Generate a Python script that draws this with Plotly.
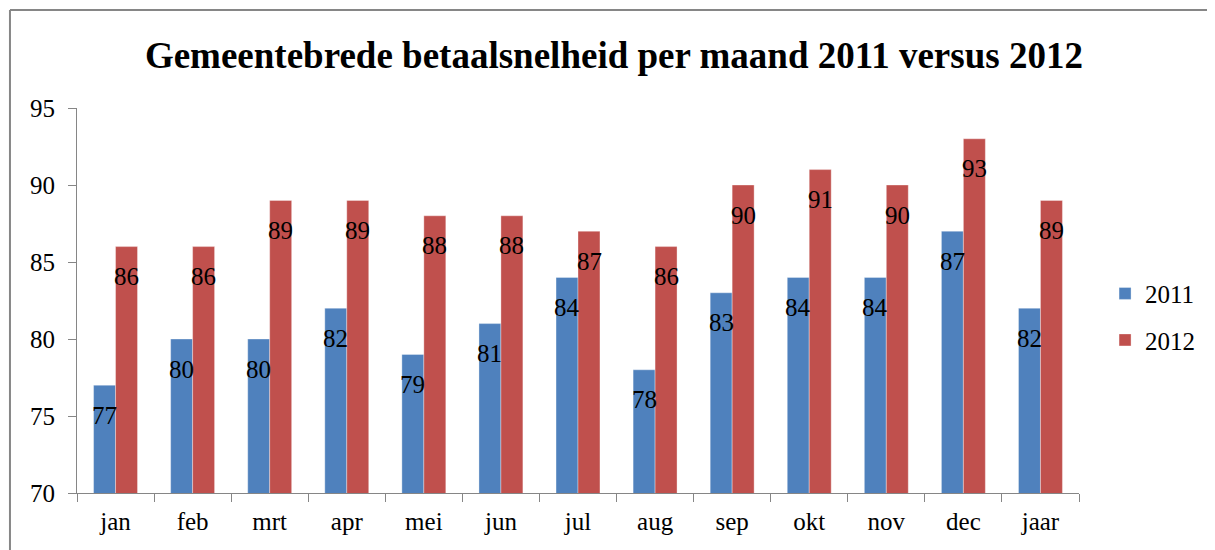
import plotly.graph_objects as go

categories = ["jan", "feb", "mrt", "apr", "mei", "jun", "jul", "aug", "sep", "okt", "nov", "dec", "jaar"]
values_2011 = [77, 80, 80, 82, 79, 81, 84, 78, 83, 84, 84, 87, 82]
values_2012 = [86, 86, 89, 89, 88, 88, 87, 86, 90, 91, 90, 93, 89]
y_ticks = [70, 75, 80, 85, 90, 95]

FONT = "Times New Roman, Liberation Serif, serif"
BLUE = "#4F81BD"
RED = "#C0504D"
AXIS = "#868686"

fig = go.Figure()
fig.add_trace(go.Bar(x=categories, y=values_2011, name="2011", marker=dict(color=BLUE, line=dict(color="rgba(255,255,255,0.35)", width=1)), legendgroup="a"))
fig.add_trace(go.Bar(x=categories, y=values_2012, name="2012", marker=dict(color=RED, line=dict(color="rgba(255,255,255,0.35)", width=1)), legendgroup="b"))

annotations = []
for series, shift in ((values_2011, -11), (values_2012, 11)):
    for c, v in zip(categories, series):
        annotations.append(dict(x=c, y=v, xref="x", yref="y", text=str(v), showarrow=False,
                                xshift=shift, yshift=-30, font=dict(family=FONT, size=25, color="black")))

frame = [
    dict(type="line", xref="paper", yref="paper", x0=-0.0669, x1=1.2, y0=1.2545, y1=1.2545,
         line=dict(color=AXIS, width=2), layer="below"),
    dict(type="line", xref="paper", yref="paper", x0=-0.0669, x1=-0.0669, y0=-0.3, y1=1.2545,
         line=dict(color=AXIS, width=2), layer="below"),
]

fig.update_layout(
    width=1207, height=542,
    margin=dict(l=69, r=136, t=100, b=57),
    paper_bgcolor="white", plot_bgcolor="white",
    barmode="group", bargap=0.43, bargroupgap=0,
    title=dict(text="<b>Gemeentebrede betaalsnelheid per maand 2011 versus 2012</b>",
               x=0.502, xanchor="center", y=0.9133, yanchor="middle", yref="container",
               font=dict(family=FONT, size=37, color="black")),
    font=dict(family=FONT, size=25, color="black"),
    legend=dict(x=1.026, xanchor="left", y=0.458, yanchor="middle", tracegroupgap=11,
                font=dict(family=FONT, size=25, color="black")),
    annotations=annotations,
    shapes=frame,
)
fig.update_yaxes(range=[70, 95], tickvals=y_ticks, showgrid=False, zeroline=False,
                 showline=True, linecolor=AXIS, linewidth=1, ticks="outside", ticklen=8,
                 tickcolor=AXIS, ticklabelstandoff=8, tickfont=dict(family=FONT, size=25))
fig.update_xaxes(showgrid=False, showline=True, linecolor=AXIS, linewidth=1, ticks="outside",
                 ticklen=8, tickcolor=AXIS, tickson="boundaries", ticklabelstandoff=6,
                 tickfont=dict(family=FONT, size=25))

fig.write_html("out.html")
